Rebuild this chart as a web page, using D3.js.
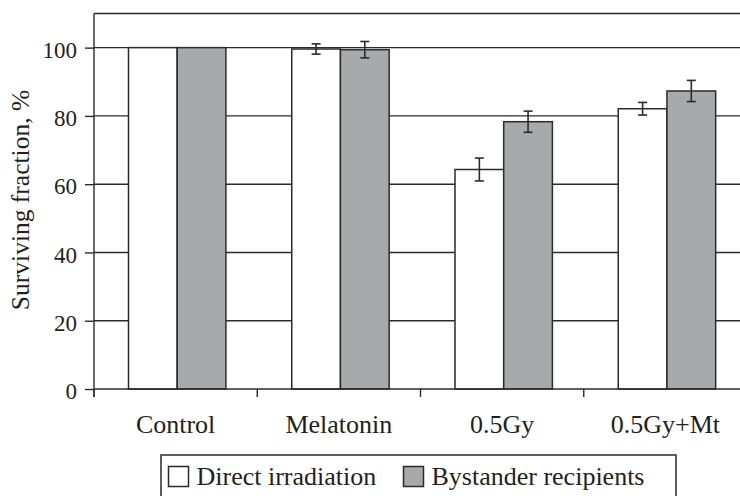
<!DOCTYPE html>
<html>
<head>
<meta charset="utf-8">
<script src="https://cdn.jsdelivr.net/npm/d3@7"></script>
<style>
  html, body { margin: 0; padding: 0; background: #fff; }
  svg { display: block; }
  text { font-family: "Liberation Serif", "Times New Roman", serif; fill: #231f20; }
</style>
</head>
<body>
<svg id="chart" width="740" height="496"></svg>
<script>
// ---- data ----
const categories = ["Control", "Melatonin", "0.5Gy", "0.5Gy+Mt"];
const seriesNames = ["Direct irradiation", "Bystander recipients"];
const directValues = [100, 99.6, 64.3, 82.1];
const directErrors = [0, 1.5, 3.35, 1.85];
const bystanderValues = [100, 99.4, 78.3, 87.3];
const bystanderErrors = [0, 2.4, 3.1, 3.1];
const yTicks = [0, 20, 40, 60, 80, 100];
const yMax = 110;
const yTitle = "Surviving fraction, %";

const colors = { "Direct irradiation": "#ffffff", "Bystander recipients": "#a8a9ac" };
const ink = "#2b2b2b";

const svg = d3.select("#chart");
const plotLeft = 94, plotRight = 747, plotTop = 13.5, plotBottom = 389;

const x = d3.scaleBand().domain(categories).range([plotLeft, plotRight]).paddingInner(0).paddingOuter(0);
const x1 = d3.scaleBand().domain(seriesNames).range([34.5, 34.5 + 97.4]).padding(0);
const y = d3.scaleLinear().domain([0, yMax]).range([plotBottom, plotTop]);

const rows = categories.map((c, i) => ({
  cat: c,
  vals: [
    { s: seriesNames[0], v: directValues[i], e: directErrors[i] },
    { s: seriesNames[1], v: bystanderValues[i], e: bystanderErrors[i] }
  ]
}));

// gridlines
svg.append("g").selectAll("line").data(yTicks.filter(t => t > 0)).join("line")
  .attr("x1", plotLeft).attr("x2", 740)
  .attr("y1", d => y(d)).attr("y2", d => y(d))
  .attr("stroke", ink).attr("stroke-width", 1.4);

// top border
svg.append("line").attr("x1", plotLeft).attr("x2", 740)
  .attr("y1", y(yMax)).attr("y2", y(yMax))
  .attr("stroke", ink).attr("stroke-width", 1.4);

// bars
const g = svg.append("g").selectAll("g").data(rows).join("g")
  .attr("transform", d => `translate(${x(d.cat)},0)`);

g.selectAll("rect").data(d => d.vals).join("rect")
  .attr("x", d => x1(d.s))
  .attr("width", x1.bandwidth())
  .attr("y", d => y(d.v))
  .attr("height", d => y(0) - y(d.v))
  .attr("fill", d => colors[d.s])
  .attr("stroke", ink).attr("stroke-width", 1.5);

// error bars
const eb = g.selectAll("g.err").data(d => d.vals.filter(v => v.e > 0)).join("g").attr("class", "err");
eb.append("line")
  .attr("x1", d => x1(d.s) + x1.bandwidth() / 2).attr("x2", d => x1(d.s) + x1.bandwidth() / 2)
  .attr("y1", d => y(d.v + d.e)).attr("y2", d => y(d.v - d.e))
  .attr("stroke", ink).attr("stroke-width", 1.6);
eb.selectAll("line.cap").data(d => [d, d].map((v, k) => ({ ...v, k }))).join("line").attr("class", "cap")
  .attr("x1", d => x1(d.s) + x1.bandwidth() / 2 - 4.5).attr("x2", d => x1(d.s) + x1.bandwidth() / 2 + 4.5)
  .attr("y1", d => y(d.k ? d.v - d.e : d.v + d.e)).attr("y2", d => y(d.k ? d.v - d.e : d.v + d.e))
  .attr("stroke", ink).attr("stroke-width", 1.6);

// y axis
const yAxis = d3.axisLeft(y).tickValues(yTicks).tickSize(9).tickPadding(8);
const ya = svg.append("g").attr("transform", `translate(${plotLeft},0)`).call(yAxis);
ya.attr("font-family", null);
ya.select(".domain").remove();
ya.selectAll(".tick line").attr("stroke", ink).attr("stroke-width", 1.4);
ya.selectAll(".tick text").attr("font-size", 23).attr("fill", "#231f20").attr("dy", "0.42em");
svg.append("line").attr("x1", plotLeft).attr("x2", plotLeft).attr("y1", y(yMax)).attr("y2", plotBottom + 8)
  .attr("stroke", ink).attr("stroke-width", 1.4);

// x axis
svg.append("line").attr("x1", plotLeft).attr("x2", 740).attr("y1", y(0)).attr("y2", y(0))
  .attr("stroke", ink).attr("stroke-width", 1.4);
svg.append("g").selectAll("line").data(categories).join("line")
  .attr("x1", d => x(d)).attr("x2", d => x(d))
  .attr("y1", plotBottom).attr("y2", plotBottom + 8)
  .attr("stroke", ink).attr("stroke-width", 1.4);
svg.append("g").selectAll("text").data(categories).join("text")
  .attr("x", d => x(d) + x.bandwidth() / 2)
  .attr("y", 433)
  .attr("text-anchor", "middle")
  .attr("font-size", 26)
  .text(d => d);

// y title
svg.append("text")
  .attr("transform", `translate(29,200) rotate(-90)`)
  .attr("text-anchor", "middle")
  .attr("font-size", 25.5)
  .text(yTitle);

// legend
svg.append("rect").attr("x", 161).attr("y", 455).attr("width", 515).attr("height", 60)
  .attr("fill", "none").attr("stroke", ink).attr("stroke-width", 1.5);
const legX = [168.5, 403.5];
const lg = svg.append("g").selectAll("g").data(seriesNames).join("g")
  .attr("transform", (d, i) => `translate(${legX[i]},466.5)`);
lg.append("rect").attr("width", 20).attr("height", 20)
  .attr("fill", d => colors[d]).attr("stroke", ink).attr("stroke-width", 1.5);
lg.append("text").attr("x", 28).attr("y", 18).attr("font-size", 26).text(d => d);
</script>
</body>
</html>
